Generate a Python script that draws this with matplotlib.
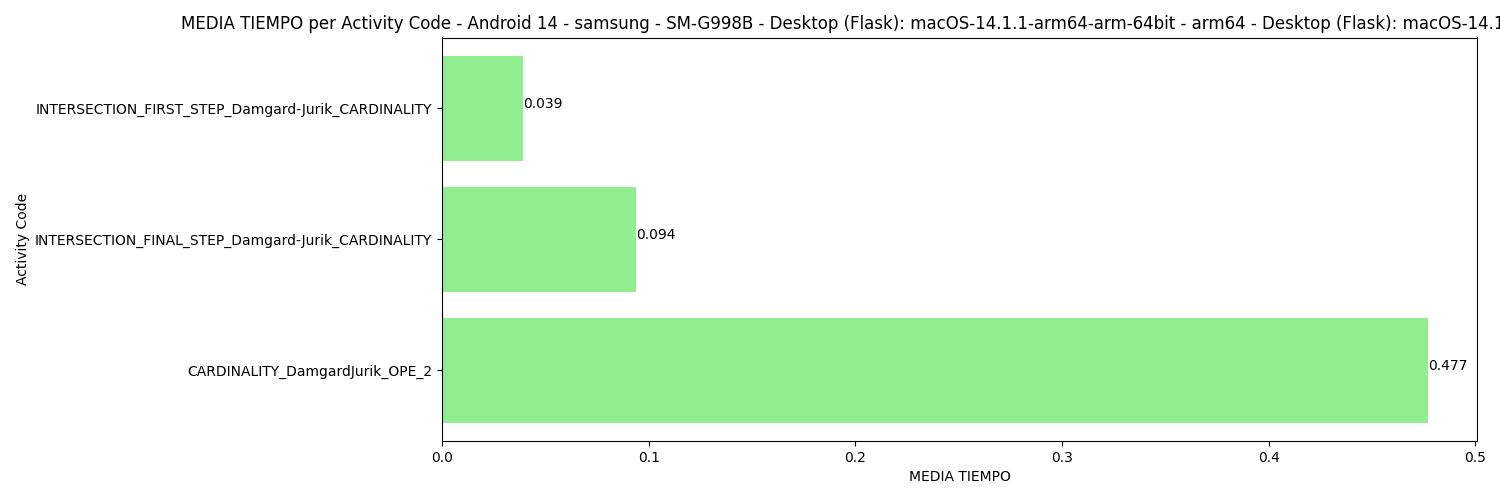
import matplotlib
matplotlib.use("Agg")
import matplotlib.pyplot as plt

# Data
activity_codes = [
    "CARDINALITY_DamgardJurik_OPE_2",
    "INTERSECTION_FINAL_STEP_Damgard-Jurik_CARDINALITY",
    "INTERSECTION_FIRST_STEP_Damgard-Jurik_CARDINALITY",
]
media_tiempo = [0.477, 0.094, 0.039]

title = ("MEDIA TIEMPO per Activity Code - Android 14 - samsung - SM-G998B - "
         "Desktop (Flask): macOS-14.1.1-arm64-arm-64bit - arm64 - "
         "Desktop (Flask): macOS-14.1.1-arm64-arm-64bit - arm64")

fig, ax = plt.subplots(figsize=(15, 5), dpi=100)
ax.barh(activity_codes, media_tiempo, color="lightgreen")

# value labels at the end of each bar
for i, v in enumerate(media_tiempo):
    ax.text(v, i, f"{v:.3f}")

ax.set_xlabel("MEDIA TIEMPO")
ax.set_ylabel("Activity Code")
ax.set_title(title)

fig.subplots_adjust(left=0.2947, right=0.9847, top=0.925, bottom=0.118)
fig.savefig("out.png")
